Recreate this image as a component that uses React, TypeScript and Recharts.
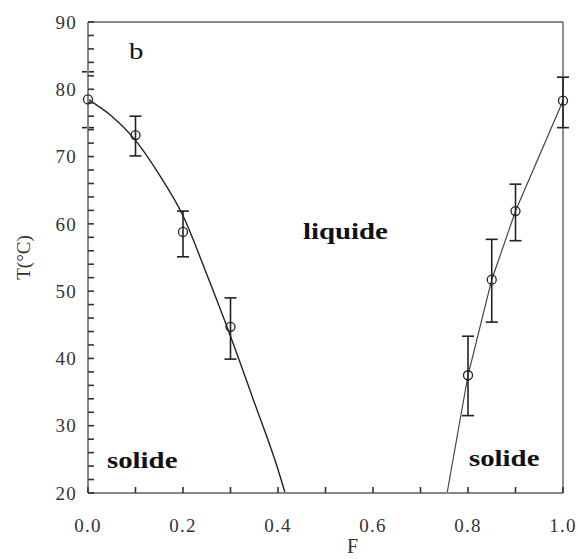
import { ComposedChart, ErrorBar, Label, Line, ReferenceLine, Scatter, XAxis, YAxis } from 'recharts'

// measured points (F, T) with error bar limits
const measF = [0, 0.1, 0.2, 0.3, 0.8, 0.85, 0.9, 1.0]
const measT = [78.5, 73.2, 58.8, 44.7, 37.5, 51.7, 61.9, 78.3]
const errLow = [74.3, 70.1, 55.1, 39.9, 31.5, 45.4, 57.5, 74.3]
const errHigh = [82.6, 76.0, 61.9, 49.0, 43.3, 57.7, 65.9, 81.8]

// liquidus curves
const leftCurveF = [0, 0.05, 0.1, 0.15, 0.2, 0.25, 0.3, 0.35, 0.4, 0.415]
const leftCurveT = [78.5, 76.0, 72.4, 67.3, 61.2, 52.5, 43.3, 33.5, 23.5, 20]
const rightCurveF = [0.756, 0.8, 0.85, 0.9, 1.0]
const rightCurveT = [20, 37.5, 51.7, 61.9, 78.3]

const xTicks = [0, 0.1, 0.2, 0.3, 0.4, 0.5, 0.6, 0.7, 0.8, 0.9, 1.0]
const yTicks = [20, 22, 24, 26, 28, 30, 32, 34, 36, 38, 40, 42, 44, 46, 48, 50, 52, 54, 56, 58, 60, 62, 64, 66, 68, 70, 72, 74, 76, 78, 80, 82, 84, 86, 88, 90]

const points = measF.map((f, i) => ({ f, t: measT[i], err: [measT[i] - errLow[i], errHigh[i] - measT[i]] }))
const leftCurve = leftCurveF.map((f, i) => ({ f, t: leftCurveT[i] }))
const rightCurve = rightCurveF.map((f, i) => ({ f, t: rightCurveT[i] }))

const serif = '"Liberation Serif", "Times New Roman", serif'
const X_MARGIN = 26
const Y_MARGIN = 11

// inward tick mark + label (labels only on every other x tick / every 10 °C)
function XTick(props: any) {
  const { x, y, payload } = props
  const v = payload.value as number
  const axisY = y - X_MARGIN
  const label = Math.round(v * 10) % 2 === 0 ? v.toFixed(1) : ''
  return (
    <g>
      <line x1={x} x2={x} y1={axisY} y2={axisY - 6} stroke="#333" strokeWidth={1.6} />
      {label && (
        <text x={x} y={y} dy="0.71em" textAnchor="middle" fill="#333" fontSize={19} fontFamily={serif} letterSpacing={1.3}>
          {label}
        </text>
      )}
    </g>
  )
}

function YTick(props: any) {
  const { x, y, payload } = props
  const v = payload.value as number
  const axisX = x + Y_MARGIN
  const label = v % 10 === 0 ? String(v) : ''
  return (
    <g>
      <line x1={axisX} x2={axisX + 6} y1={y} y2={y} stroke="#333" strokeWidth={1.6} />
      {label && (
        <text x={x} y={y} dy="0.355em" textAnchor="end" fill="#333" fontSize={19} fontFamily={serif} letterSpacing={1.3}>
          {label}
        </text>
      )}
    </g>
  )
}

function OpenCircle(props: any) {
  return <circle cx={props.cx} cy={props.cy} r={4.5} fill="none" stroke="#222" strokeWidth={1.3} />
}

function RegionLabel({ text, left, top, bold = true }: { text: string; left: number; top: number; bold?: boolean }) {
  return (
    <div
      style={{
        position: 'absolute', left, top, fontFamily: serif, fontSize: 24, lineHeight: '24px',
        fontWeight: bold ? 700 : 400, color: '#111', transform: 'scaleX(1.2)', transformOrigin: 'left top', whiteSpace: 'nowrap',
      }}
    >
      {text}
    </div>
  )
}

export default function App() {
  return (
    <div style={{ position: 'absolute', left: 0, top: 0, width: 578, height: 559, background: '#fff', overflow: 'hidden' }}>
      <ComposedChart width={578} height={559} margin={{ top: 22, right: 15, bottom: 0, left: 0 }}>
        <XAxis
          type="number" dataKey="f" domain={[0, 1]} ticks={xTicks} interval={0}
          tickSize={0} tickMargin={X_MARGIN} height={66} stroke="#888" strokeWidth={2}
          tickLine={false} tick={XTick}
        >
          <Label value="F" position="center" dx={27} dy={20} fill="#333" fontSize={20} fontFamily={serif} />
        </XAxis>
        <YAxis
          type="number" dataKey="t" domain={[20, 90]} ticks={yTicks} interval={0}
          tickSize={0} tickMargin={Y_MARGIN} width={88} stroke="#888" strokeWidth={2}
          tickLine={false} tick={YTick}
        >
          <Label value="T(°C)" angle={-90} position="center" dx={-21} fill="#333" fontSize={19} fontFamily={serif} />
        </YAxis>
        <ReferenceLine y={90} stroke="#888" strokeWidth={2} />
        <ReferenceLine x={1} stroke="#444" strokeWidth={1.2} />
        <Line data={leftCurve} dataKey="t" type="monotone" stroke="#222" strokeWidth={1.4} dot={false} isAnimationActive={false} />
        <Line data={rightCurve} dataKey="t" type="linear" stroke="#444" strokeWidth={1.2} dot={false} isAnimationActive={false} />
        <Scatter data={points} dataKey="t" shape={OpenCircle} isAnimationActive={false}>
          <ErrorBar dataKey="err" direction="y" width={6} stroke="#222" strokeWidth={1.6} isAnimationActive={false} />
        </Scatter>
      </ComposedChart>
      <RegionLabel text="b" left={129} top={39} bold={false} />
      <RegionLabel text="liquide" left={303} top={219} />
      <RegionLabel text="solide" left={107} top={448} />
      <RegionLabel text="solide" left={469} top={446} />
    </div>
  )
}
